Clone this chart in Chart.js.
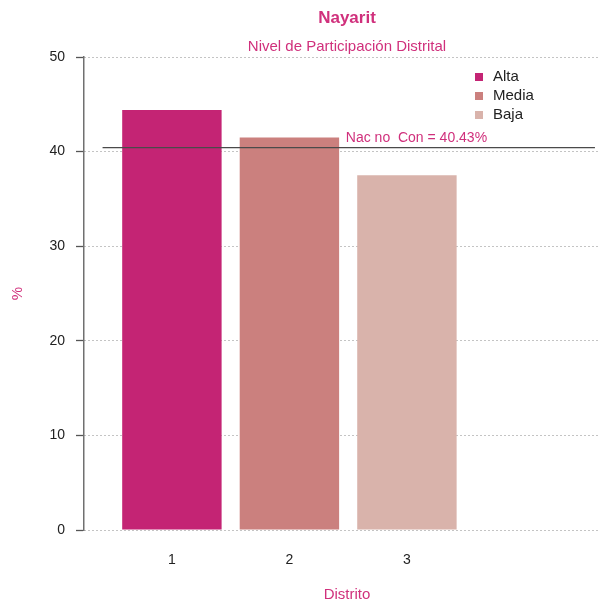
<!DOCTYPE html>
<html>
<head>
<meta charset="utf-8">
<script src="https://cdn.jsdelivr.net/npm/chart.js@4/dist/chart.umd.min.js"></script>
<style>
    html, body { margin: 0; padding: 0; background: #fff; }
    #wrap { width: 602px; height: 604px; }
</style>
</head>
<body>
<div id="wrap"><canvas id="nivel-chart" width="602" height="604"></canvas></div>
<script>
// Datos
const distritos = [1, 2, 3];
const niveles = ['Alta', 'Media', 'Baja'];
const participacion = [44.4, 41.5, 37.5];
const colores = ['#c42474', '#cb807e', '#d9b3ab'];
const yTicks = [0, 10, 20, 30, 40, 50];
const nacional = 40.43;
const nacionalTramo = [0.41, 4.6];

const ROSA = '#d0307c';
const FONT = 'Liberation Sans, Arial, Helvetica, sans-serif';

// textos y leyenda dibujados a mano
const textos = {
    id: 'textos',
    afterDraw(chart) {
        const c = chart.ctx;
        const x = chart.scales.x, y = chart.scales.y;
        const area = chart.chartArea;
        const centro = 347;
        c.save();
        c.textAlign = 'center';
        c.textBaseline = 'middle';
        c.fillStyle = ROSA;
        c.font = 'bold 17px ' + FONT;
        c.fillText('Nayarit', centro, 18);
        c.font = '15px ' + FONT;
        c.fillText('Nivel de Participación Distrital', centro, 47);
        c.fillText('Distrito', centro, 595);

        c.save();
        c.translate(18, (area.top + area.bottom) / 2);
        c.rotate(-Math.PI / 2);
        c.fillText('%', 0, 0);
        c.restore();

        // etiqueta de la linea nacional
        c.textAlign = 'left';
        c.textBaseline = 'bottom';
        c.font = '14px ' + FONT;
        c.fillText('Nac no  Con = ' + nacional.toFixed(2) + '%', x.getPixelForValue(2.48), y.getPixelForValue(nacional) - 2);

        // leyenda
        c.font = '15px ' + FONT;
        c.textBaseline = 'middle';
        niveles.forEach((n, i) => {
            const ly = 77 + i * 19;
            c.fillStyle = colores[i];
            c.fillRect(475, ly - 4, 8, 8);
            c.fillStyle = '#222';
            c.fillText(n, 493, ly);
        });
        c.restore();
    }
};

const datasets = distritos.map((d, i) => ({
    label: niveles[i],
    data: [{x: d, y: participacion[i]}],
    backgroundColor: colores[i],
    borderWidth: 0,
    barPercentage: 0.846,
    categoryPercentage: 1,
    grouped: false,
    order: 1
}));

datasets.push({
    type: 'line',
    label: 'Nacional',
    data: nacionalTramo.map(v => ({x: v, y: nacional})),
    borderColor: '#4a4a4a',
    borderWidth: 1.3,
    pointRadius: 0,
    order: 0
});

new Chart(document.getElementById('nivel-chart'), {
    type: 'bar',
    data: {datasets: datasets},
    options: {
        responsive: false,
        animation: false,
        devicePixelRatio: 1,
        layout: {
            padding: {top: 57, right: 2, left: 0, bottom: 0}
        },
        plugins: {
            legend: {display: false},
            tooltip: {enabled: false}
        },
        scales: {
            x: {
                type: 'linear',
                offset: false,
                min: 0.252,
                max: 4.643,
                afterFit: s => { s.height = 74; },
                afterBuildTicks: s => { s.ticks = distritos.map(v => ({value: v})); },
                grid: {display: false, drawTicks: false},
                border: {display: false},
                ticks: {
                    padding: 22,
                    color: '#222',
                    font: {family: FONT, size: 14}
                }
            },
            y: {
                min: 0,
                max: 50,
                afterFit: s => { s.width = 84; },
                afterBuildTicks: s => { s.ticks = yTicks.map(v => ({value: v})); },
                border: {display: true, color: '#707070', width: 1.5, dash: [1, 3]},
                grid: {
                    color: '#888',
                    lineWidth: 1,
                    drawTicks: true,
                    tickLength: 8,
                    tickColor: '#555',
                    tickBorderDash: [],
                    tickWidth: 1.3
                },
                ticks: {
                    padding: 11,
                    color: '#222',
                    font: {family: FONT, size: 14}
                }
            }
        }
    },
    plugins: [textos]
});
</script>
</body>
</html>
